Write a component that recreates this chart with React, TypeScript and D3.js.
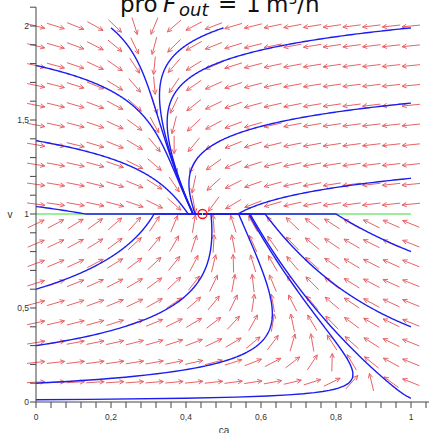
import React from 'react'
import * as d3 from 'd3'

const width = 429
const height = 433

// model: ca' = (1/v)(caIn - ca) - k*ca, v' = +1 below v=1, -0.25 above
const caIn = 1
const kReact = 1.25
const dvBelow = 1
const dvAbove = -0.25
const vSet = 1
const eqCa = 0.444

// direction field grid
const caGrid = d3.range(20).map((i) => i / 19)
const vGrid = d3.range(1, 20).map((i) => (2 * i) / 19)

// trajectory start points (ca, v)
const startCa = [0, 0, 0, 0, 0, 0, 0, 0.2, 0.5, 1, 1, 1, 1, 1, 1]
const startV = [1.79, 1.39, 1.04, 0.6, 0.3, 0.1, 0.012, 1.99, 1.99, 1.99, 1.59, 1.19, 0.8, 0.4, 0.02]

// tick labels
const xLabels = [0, 0.2, 0.4, 0.6, 0.8, 1]
const yLabels = [0, 0.5, 1, 1.5, 2]

const x = d3.scaleLinear().domain([0, 1]).range([36, 411])
const y = d3.scaleLinear().domain([0, 2]).range([402, 26])
const fmt = d3.formatLocale({ decimal: ',', thousands: '.', grouping: [3], currency: ['', ''] }).format('~g')

function dCa(ca: number, v: number) {
  return (1 / v) * (caIn - ca) - kReact * ca
}

function trajectory(ca0: number, v0: number): [number, number][] {
  let ca = ca0
  let v = v0
  let sliding = false
  const dt = 0.002
  const pts: [number, number][] = [[ca, v]]
  for (let i = 0; i < 5000; i++) {
    const vv = sliding ? vSet : v
    const k1 = dCa(ca, vv)
    const g = sliding ? 0 : v < vSet ? dvBelow : dvAbove
    const vm = sliding ? vSet : v + (g * dt) / 2
    const k2 = dCa(ca + (k1 * dt) / 2, vm)
    const k3 = dCa(ca + (k2 * dt) / 2, vm)
    const k4 = dCa(ca + k3 * dt, sliding ? vSet : v + g * dt)
    ca += ((k1 + 2 * k2 + 2 * k3 + k4) * dt) / 6
    if (!sliding) {
      const nv = v + g * dt
      if ((v - vSet) * (nv - vSet) <= 0) {
        v = vSet
        sliding = true
      } else v = nv
    }
    if (i % 3 === 0) pts.push([ca, v])
    if (sliding && Math.abs(ca - eqCa) < 0.002) break
  }
  pts.push([ca, v])
  return pts
}

export default function App() {
  const line = d3
    .line<[number, number]>()
    .x((d) => x(d[0]))
    .y((d) => y(d[1]))

  const arrows: string[] = []
  const L = 18
  caGrid.forEach((ca) => {
    vGrid.forEach((v) => {
      const g = v < vSet ? dvBelow : dvAbove
      const sx = dCa(ca, v) * (x(1) - x(0))
      const sy = -g * (y(0) - y(1))
      const n = Math.hypot(sx, sy)
      const ux = sx / n
      const uy = sy / n
      const cx = x(ca)
      const cy = y(v)
      const tx = cx - (ux * L) / 2
      const ty = cy - (uy * L) / 2
      const hx = cx + (ux * L) / 2
      const hy = cy + (uy * L) / 2
      const a = 0.45
      const hl = 5
      const b1x = hx - hl * (ux * Math.cos(a) - uy * Math.sin(a))
      const b1y = hy - hl * (uy * Math.cos(a) + ux * Math.sin(a))
      const b2x = hx - hl * (ux * Math.cos(a) + uy * Math.sin(a))
      const b2y = hy - hl * (uy * Math.cos(a) - ux * Math.sin(a))
      arrows.push(`M${tx},${ty}L${hx},${hy}M${b1x},${b1y}L${hx},${hy}L${b2x},${b2y}`)
    })
  })

  const xTicks = d3.range(0, 1.05, 0.04)
  const yTicks = d3.range(0, 2.15, 0.1)

  return (
    <svg
      width={width}
      height={height}
      style={{ position: 'absolute', left: 0, top: 0, background: '#fff' }}
      fontFamily="Liberation Sans, Arial, sans-serif"
    >
      <text y={12} fontSize={23} fontFamily="DejaVu Sans" fill="#111">
        <tspan x={120}>pro</tspan>
        <tspan x={163} fontStyle="italic">F</tspan>
        <tspan x={179} dy={4} fontStyle="italic" fontSize={18}>out</tspan>
        <tspan x={218} dy={-4}>=</tspan>
        <tspan x={246}>1</tspan>
        <tspan x={266}>m</tspan>
        <tspan dy={-8} fontSize={14}>3</tspan>
        <tspan dy={8}>/h</tspan>
      </text>

      <g stroke="#e5484d" strokeWidth={1} fill="none" opacity={0.85}>
        {arrows.map((d, i) => (
          <path key={i} d={d} />
        ))}
      </g>

      <line x1={x(0)} x2={x(1)} y1={y(vSet)} y2={y(vSet)} stroke="#3ddc3d" strokeWidth={1.2} />

      <g fill="none" stroke="#1c1cf0" strokeWidth={1.4}>
        {startCa.map((c, i) => (
          <path key={i} d={line(trajectory(c, startV[i])) || ''} />
        ))}
      </g>

      <circle cx={x(eqCa)} cy={y(vSet)} r={4.5} fill="none" stroke="#e8131a" strokeWidth={1.3} />

      {/* axes */}
      <g stroke="#444" strokeWidth={1}>
        <line x1={36} x2={36} y1={y(2.1)} y2={y(0)} />
        <line x1={36} x2={width} y1={y(0)} y2={y(0)} />
        {yTicks.map((t) => (
          <line key={t} x1={30} x2={36} y1={y(t)} y2={y(t)} />
        ))}
        {xTicks.map((t) => (
          <line key={t} x1={x(t)} x2={x(t)} y1={y(0)} y2={y(0) + 6} />
        ))}
      </g>
      <g fontSize={8.5} fill="#333">
        {yLabels.map((t) => (
          <text key={t} x={29} y={y(t) + 3} textAnchor="end">
            {fmt(t)}
          </text>
        ))}
        {xLabels.map((t) => (
          <text key={t} x={x(t)} y={420} textAnchor="middle">
            {fmt(t)}
          </text>
        ))}
      </g>
      <text x={10} y={218} fontSize={10} fill="#333" textAnchor="middle">
        v
      </text>
      <text x={224} y={434} fontSize={10} fill="#333" textAnchor="middle">
        ca
      </text>
    </svg>
  )
}
